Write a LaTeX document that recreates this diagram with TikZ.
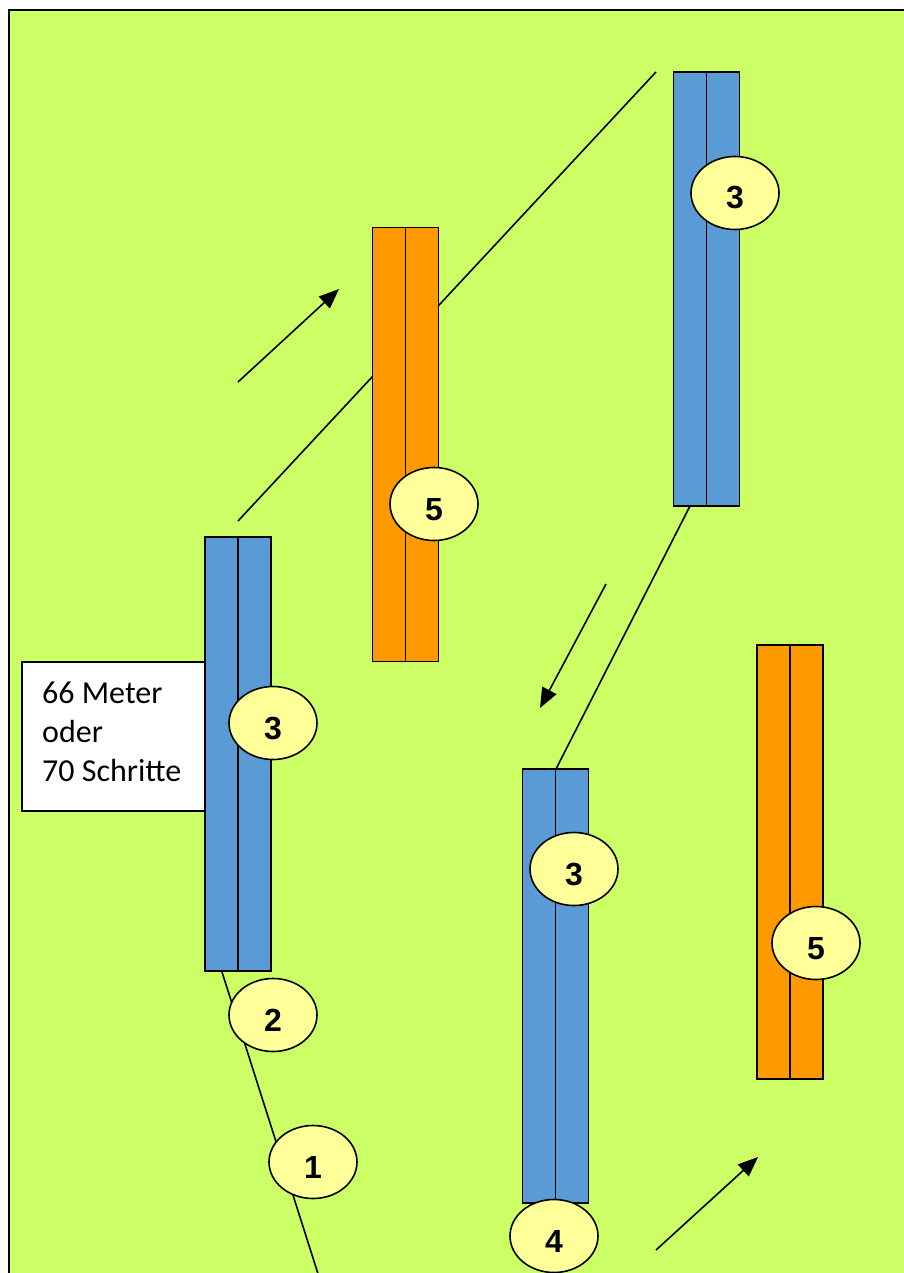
\documentclass[tikz,border=0pt]{standalone}
\usepackage{fontspec}
\setmainfont{Liberation Sans}
\newfontfamily\calib{Carlito}
\usetikzlibrary{arrows.meta,shapes.geometric}
\definecolor{field}{HTML}{CCFF66}
\definecolor{barblue}{HTML}{5B9BD5}
\definecolor{barorange}{HTML}{FF9900}
\definecolor{badge}{HTML}{FFFF99}
\tikzset{
  barbox/.style={draw=black, line width=1.6pt, rectangle, minimum width=66pt, minimum height=434pt, inner sep=0pt},
  bluebar/.style={barbox, fill=barblue},
  orangebar/.style={barbox, fill=barorange},
  numbadge/.style={ellipse, draw=black, line width=1.6pt, fill=badge, minimum width=88pt, minimum height=73pt, inner sep=0pt, font=\fontsize{32}{32}\selectfont\bfseries, text height=32pt, text depth=0pt},
  track/.style={draw=black, line width=1.6pt},
  moveto/.style={draw=black, line width=1.6pt, -{Triangle[length=20pt,width=16pt]}},
  infobox/.style={draw=black, line width=1.6pt, fill=white, rectangle, minimum width=200pt, minimum height=149pt, inner sep=0pt}
}
\begin{document}
\begin{tikzpicture}[x=1pt,y=-1pt]
\useasboundingbox (0,0) rectangle (903,1273);
% field
\path[fill=field, draw=black, line width=2.8pt] (9,10) rectangle (930,1300);
% coordinates
\coordinate (l1a) at (222,972);
\coordinate (l1b) at (320,1280);
\coordinate (l2a) at (238,521);
\coordinate (l2b) at (656,72);
\coordinate (l3a) at (690,506);
\coordinate (l3b) at (556,769);
\coordinate (a1a) at (238,382);
\coordinate (a1b) at (339,289);
\coordinate (a2a) at (606,584);
\coordinate (a2b) at (540,708);
\coordinate (a3a) at (656,1250);
\coordinate (a3b) at (758,1157);
% tracks
\draw[track] (l1a) -- (l1b);
\draw[track] (l2a) -- (l2b);
\draw[track] (l3a) -- (l3b);
\draw[moveto] (a1a) -- (a1b);
\draw[moveto] (a2a) -- (a2b);
\draw[moveto] (a3a) -- (a3b);
% info box
\node[infobox, anchor=north west] (info) at (21,661) {};
\node[anchor=north west, align=left, inner sep=0pt, font=\calib\fontsize{32}{39}\selectfont] (infotext) at (42,682) {66 Meter\\oder\\70 Schritte};
% bars
\node[bluebar] (b1) at (238,754) {};
\draw[line width=1.6pt] (b1.north) -- (b1.south);
\node[orangebar] (o1) at (405.5,444.5) {};
\draw[line width=1.6pt] (o1.north) -- (o1.south);
\node[bluebar] (b2) at (706.5,289) {};
\draw[line width=1.6pt] (b2.north) -- (b2.south);
\node[bluebar] (b3) at (555.5,986) {};
\draw[line width=1.6pt] (b3.north) -- (b3.south);
\node[orangebar] (o2) at (790,862) {};
\draw[line width=1.6pt] (o2.north) -- (o2.south);
% badges
\node[numbadge] (n3a) at (273,723) {3};
\node[numbadge] (n3b) at (735,193) {3};
\node[numbadge] (n5a) at (434,504) {5};
\node[numbadge] (n3c) at (574,869) {3};
\node[numbadge] (n5b) at (816,943) {5};
\node[numbadge] (n2) at (273,1015) {2};
\node[numbadge] (n1) at (313,1162) {1};
\node[numbadge] (n4) at (554,1236) {4};
\end{tikzpicture}
\end{document}
